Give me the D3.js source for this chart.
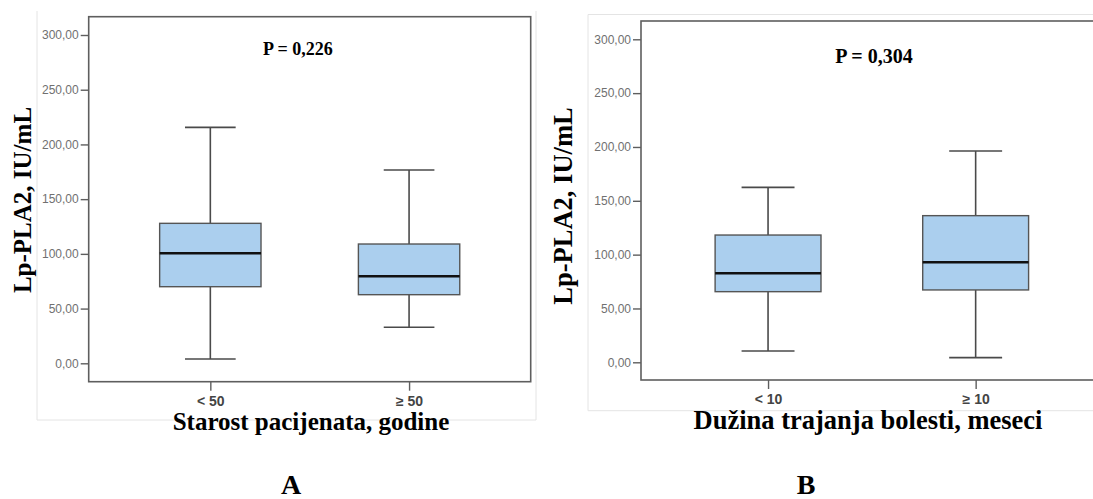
<!DOCTYPE html>
<html>
<head>
<meta charset="utf-8">
<script src="https://cdn.jsdelivr.net/npm/d3@7"></script>
<style>
  body { margin: 0; background: #fff; }
  svg { display: block; }
</style>
</head>
<body>
<div id="wrap"></div>
<script>
// data: [min, q1, median, q3, max]
const groupsA = ["< 50", "\u2265 50"];
const statsA = [[3.9, 70.0, 100.5, 127.9, 215.6], [32.9, 62.7, 79.5, 109.0, 176.6]];
const groupsB = ["< 10", "\u2265 10"];
const statsB = [[10.5, 65.6, 82.7, 118.2, 162.5], [4.3, 67.2, 92.9, 136.2, 196.2]];
const yTicks = [0, 50, 100, 150, 200, 250, 300];
const pLabels = ["P = 0,226", "P = 0,304"];
const xTitles = ["Starost pacijenata, godine", "Dužina trajanja bolesti, meseci"];
const yTitle = "Lp-PLA2, IU/mL";
const panelLetters = ["A", "B"];

let svg = d3.select("#wrap").append("svg")
    .attr("width", 1093)
    .attr("height", 499);

const serif = "'Liberation Serif', 'Times New Roman', serif";
const sans = "'Liberation Sans', Arial, sans-serif";

// layout for each panel
let panels = [
  {groups: groupsA, stats: statsA, p: pLabels[0], xt: xTitles[0], letter: panelLetters[0],
   left: 88.7, right: 530.7, top: 16.7, bottom: 381.7, y0: 363.3, y300: 35,
   px: 298, py: 55, pSize: 18, tSize: 25, ytx: 31, yty: 200, xtx: 311, xty: 430,
   lx: 291, frame: {x1: 37, x2: 536, y1: 11, y2: 420, sides: "lrb"}},
  {groups: groupsB, stats: statsB, p: pLabels[1], xt: xTitles[1], letter: panelLetters[1],
   left: 641, right: 1102.7, top: 21, bottom: 380, y0: 362.3, y300: 39.3,
   px: 874, py: 62.5, pSize: 20, tSize: 26.5, ytx: 572, yty: 206, xtx: 868, xty: 429,
   lx: 806, frame: {x1: 588, x2: 1093, y1: 14.5, y2: 410.7, sides: "tlb"}}
];

panels.forEach(function(c) {
  let g = svg.append("g");

  // light outer frame
  let f = c.frame;
  if (f.sides.includes("t")) g.append("line").attr("x1", f.x1).attr("x2", f.x2).attr("y1", f.y1).attr("y2", f.y1);
  if (f.sides.includes("l")) g.append("line").attr("x1", f.x1).attr("x2", f.x1).attr("y1", f.y1).attr("y2", f.y2);
  if (f.sides.includes("r")) g.append("line").attr("x1", f.x2).attr("x2", f.x2).attr("y1", f.y1).attr("y2", f.y2);
  if (f.sides.includes("b")) g.append("line").attr("x1", f.x1).attr("x2", f.x2).attr("y1", f.y2).attr("y2", f.y2);
  g.selectAll("line").attr("stroke", "#e4e4e4").attr("stroke-width", 1);

  // scales
  let x = d3.scalePoint().domain(c.groups).range([c.left, c.right]).padding(0.612);
  let y = d3.scaleLinear().domain([0, 300]).range([c.y0, c.y300]);
  let step = x.step();
  let boxW = step * 0.51, capW = step * 0.255;

  // plot frame
  g.append("rect")
      .attr("x", c.left).attr("y", c.top)
      .attr("width", c.right - c.left).attr("height", c.bottom - c.top)
      .attr("fill", "none").attr("stroke", "#5e5e5e").attr("stroke-width", 1.6);

  // y axis
  let ya = g.append("g")
      .attr("transform", "translate(" + c.left + ",0)")
      .call(d3.axisLeft(y).tickValues(yTicks).tickSize(8).tickPadding(2)
        .tickFormat(function(d) { return d3.format(".2f")(d).replace(".", ","); }));
  ya.select(".domain").remove();
  ya.selectAll("line").attr("stroke", "#5e5e5e").attr("stroke-width", 1.4);
  ya.selectAll("text").attr("fill", "#707070").style("font-family", sans).style("font-size", "12px");

  // x axis
  let xa = g.append("g")
      .attr("transform", "translate(0," + c.bottom + ")")
      .call(d3.axisBottom(x).tickSize(9).tickPadding(5));
  xa.select(".domain").remove();
  xa.selectAll("line").attr("stroke", "#5e5e5e").attr("stroke-width", 1.4);
  xa.selectAll("text").attr("fill", "#444").style("font-family", sans)
      .style("font-size", "14px").style("font-weight", "bold");

  // boxes
  let box = g.selectAll(".box")
      .data(c.stats)
    .enter().append("g")
      .attr("class", "box")
      .attr("transform", function(d, i) { return "translate(" + x(c.groups[i]) + ",0)"; });

  // whiskers
  box.append("line")
      .attr("x1", 0).attr("x2", 0)
      .attr("y1", function(d) { return y(d[4]); })
      .attr("y2", function(d) { return y(d[3]); });
  box.append("line")
      .attr("x1", 0).attr("x2", 0)
      .attr("y1", function(d) { return y(d[1]); })
      .attr("y2", function(d) { return y(d[0]); });
  box.append("line")
      .attr("x1", -capW / 2).attr("x2", capW / 2)
      .attr("y1", function(d) { return y(d[4]); })
      .attr("y2", function(d) { return y(d[4]); });
  box.append("line")
      .attr("x1", -capW / 2).attr("x2", capW / 2)
      .attr("y1", function(d) { return y(d[0]); })
      .attr("y2", function(d) { return y(d[0]); });
  box.selectAll("line").attr("stroke", "#4a4a4a").attr("stroke-width", 1.6);

  box.append("rect")
      .attr("x", -boxW / 2)
      .attr("width", boxW)
      .attr("y", function(d) { return y(d[3]); })
      .attr("height", function(d) { return y(d[1]) - y(d[3]); })
      .attr("fill", "#abcfee")
      .attr("stroke", "#555")
      .attr("stroke-width", 1.4);

  // median
  box.append("line")
      .attr("x1", -boxW / 2).attr("x2", boxW / 2)
      .attr("y1", function(d) { return y(d[2]); })
      .attr("y2", function(d) { return y(d[2]); })
      .attr("stroke", "#111").attr("stroke-width", 2.4);

  // texts
  g.append("text")
      .attr("x", c.px).attr("y", c.py)
      .attr("text-anchor", "middle")
      .style("font-family", serif).style("font-weight", "bold").style("font-size", c.pSize + "px")
      .text(c.p);

  g.append("text")
      .attr("transform", "translate(" + c.ytx + "," + c.yty + ") rotate(-90)")
      .attr("text-anchor", "middle")
      .style("font-family", serif).style("font-weight", "bold").style("font-size", c.tSize + "px")
      .text(yTitle);

  g.append("text")
      .attr("x", c.xtx).attr("y", c.xty)
      .attr("text-anchor", "middle")
      .style("font-family", serif).style("font-weight", "bold").style("font-size", c.tSize + "px")
      .text(c.xt);

  g.append("text")
      .attr("x", c.lx).attr("y", 494)
      .attr("text-anchor", "middle")
      .style("font-family", serif).style("font-weight", "bold").style("font-size", "28px")
      .text(c.letter);
});
</script>
</body>
</html>
